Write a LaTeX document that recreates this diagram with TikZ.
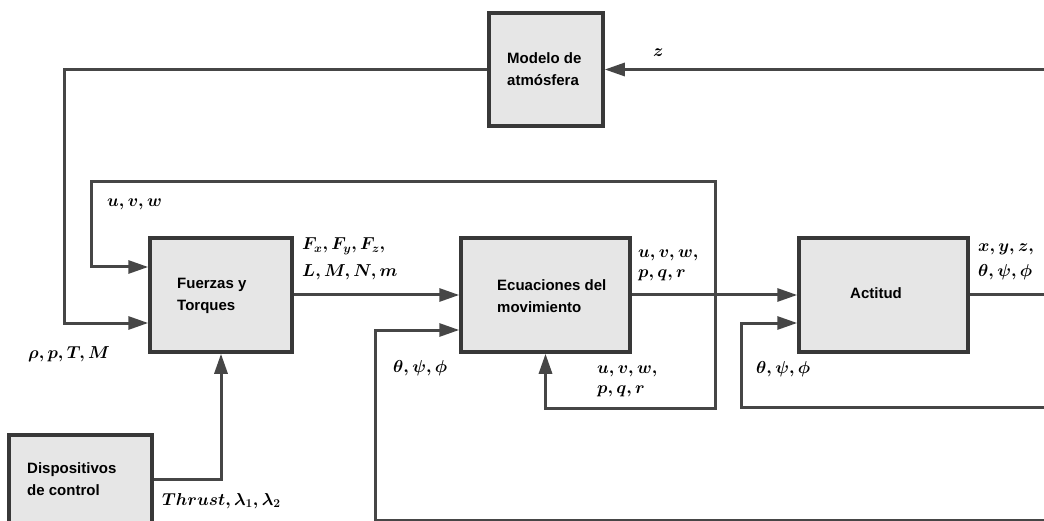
\documentclass[tikz,border=0pt]{standalone}
\usepackage{fontspec}
\setmainfont{Liberation Sans}
\usetikzlibrary{arrows.meta,calc}
\definecolor{boxfill}{HTML}{E6E6E6}
\definecolor{boxedge}{HTML}{383838}
\definecolor{wirecol}{HTML}{464646}
\begin{document}
\begin{tikzpicture}[x=1pt,y=-1pt,
  block/.style={draw=boxedge, line width=3.5pt, fill=boxfill, inner sep=0pt},
  blocktext/.style={inner sep=0pt, align=left, anchor=west,
    font=\fontsize{15}{22}\selectfont\bfseries},
  wire/.style={draw=wirecol, line width=3pt},
  sig/.style={wire, -{Triangle[length=20pt,width=13pt]}},
  lbl/.style={font=\fontsize{18.6}{22}\selectfont\boldmath, inner sep=0pt, anchor=base west},
]
\useasboundingbox (0,0) rectangle (1044,521);

% blocks
\node[block, minimum width=114pt, minimum height=113pt] (modelo) at (546,69.5) {};
\node[block, minimum width=142pt, minimum height=114pt] (fuerzas) at (221,295) {};
\node[block, minimum width=169pt, minimum height=114pt] (ecuaciones) at (545.5,295) {};
\node[block, minimum width=169pt, minimum height=114pt] (actitud) at (883.5,295) {};
\node[block, minimum width=143pt, minimum height=88pt] (disp) at (80.5,479) {};

% block captions
\node[blocktext] (modelo-t) at (507,69) {Modelo de\\atmósfera};
\node[blocktext] (fuerzas-t) at (177,296) {Fuerzas y\\Torques};
\node[blocktext] (ecuaciones-t) at (497,296) {Ecuaciones del\\movimiento};
\node[blocktext] (actitud-t) at (850,293) {Actitud};
\node[blocktext] (disp-t) at (27,479) {Dispositivos\\de control};

% free ends beyond the right and bottom edges
\coordinate (zin)  at (1052,69.5);
\coordinate (xout) at (1052,295);
\coordinate (fb2)  at (1052,407);
\coordinate (fb3)  at (1052,520);
\coordinate (br1)  at (715,295);

% connectors
\draw[sig] (zin) -- (modelo.east);
\draw[sig] (modelo.west) -| ($(fuerzas.west)+(-84,28)$) -- ($(fuerzas.west)+(0,28)$);
\draw[sig] (fuerzas.east) -- (ecuaciones.west);
\draw[sig] (ecuaciones.east) -- (actitud.west);
\draw[wire] (actitud.east) -- (xout);
\draw[sig] (br1) |- ($(fuerzas.west)+(-57,-113)$) -- ($(fuerzas.west)+(-57,-28)$) -- ($(fuerzas.west)+(0,-28)$);
\draw[sig] (br1) |- ($(ecuaciones.south)+(0,55)$) -- (ecuaciones.south);
\draw[sig] (fb2) -| ($(actitud.west)+(-56,28)$) -- ($(actitud.west)+(0,28)$);
\draw[sig] (fb3) -| ($(ecuaciones.west)+(-84,35)$) -- ($(ecuaciones.west)+(0,35)$);
\draw[sig] (disp.east) -| (fuerzas.south);

% signal labels
\node[lbl] (lz) at (653,57) {$z$};
\node[lbl] (luvw) at (107,207) {$u,v,w$};
\node[lbl] (lrho) at (28,358) {$\rho,p,T,M$};
\node[lbl] (lF1) at (302,250) {$F_x,F_y,F_z,$};
\node[lbl] (lF2) at (302,277) {$L,M,N,m$};
\node[lbl] (lo1) at (638,258) {$u,v,w,$};
\node[lbl] (lo2) at (638,278) {$p,q,r$};
\node[lbl] (lang1) at (393,372) {$\theta,\psi,\phi$};
\node[lbl] (lb1) at (597,373) {$u,v,w,$};
\node[lbl] (lb2) at (597,393) {$p,q,r$};
\node[lbl] (la1) at (978,252) {$x,y,z,$};
\node[lbl] (la2) at (978,277) {$\theta,\psi,\phi$};
\node[lbl] (lang2) at (756,373) {$\theta,\psi,\phi$};
\node[lbl] (lth) at (162,505) {$Thrust,\lambda_1,\lambda_2$};
\end{tikzpicture}
\end{document}
